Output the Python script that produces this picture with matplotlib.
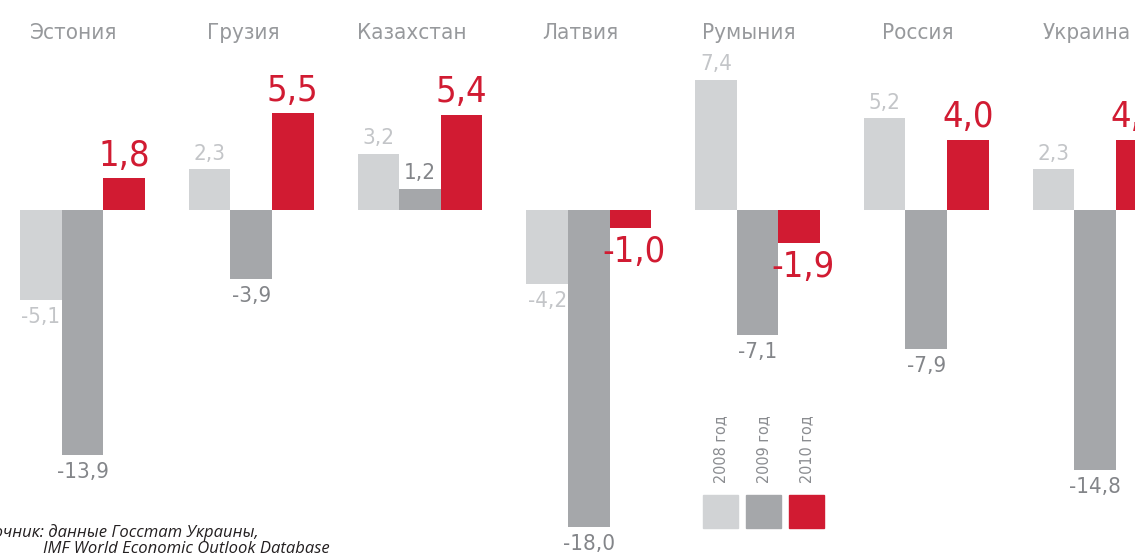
import matplotlib
matplotlib.use('Agg')
import matplotlib.pyplot as plt
from matplotlib import font_manager
from matplotlib.patches import Rectangle
from matplotlib.transforms import blended_transform_factory

countries = ['Эстония', 'Грузия', 'Казахстан', 'Латвия', 'Румыния', 'Россия', 'Украина']
years = ['2008 год', '2009 год', '2010 год']
gdp_2008 = [-5.1, 2.3, 3.2, -4.2, 7.4, 5.2, 2.3]
gdp_2009 = [-13.9, -3.9, 1.2, -18.0, -7.1, -7.9, -14.8]
gdp_2010 = [1.8, 5.5, 5.4, -1.0, -1.9, 4.0, 4.0]
source_lines = ['Источник: данные Госстат Украины,', 'IMF World Economic Outlook Database']

c_light = '#d1d3d5'
c_mid = '#a5a7aa'
c_red = '#d11b32'
c_title = '#97999c'

# narrow font if there is one, else plain DejaVu
narrow = None
pref = ['liberation sans narrow', 'dejavu sans', 'roboto condensed', 'open sans condensed', 'noto sans']
cands = []
for f in font_manager.fontManager.ttflist:
    nm = f.name.lower()
    st = str(f.stretch).lower()
    if f.style != 'normal':
        continue
    w = f.weight if isinstance(f.weight, int) else 400
    if w > 500:
        continue
    if 'narrow' in nm or 'condensed' in nm or st in ('condensed', 'semi-condensed', 'extra-condensed', '75', '87'):
        rank = next((i for i, p in enumerate(pref) if nm.startswith(p)), 99)
        cands.append((rank, f.fname))
if cands:
    cands.sort()
    narrow = cands[0][1]

def fp(size):
    if narrow:
        return font_manager.FontProperties(fname=narrow, size=size)
    return font_manager.FontProperties(family='DejaVu Sans', size=size * 0.8)

fig = plt.figure(figsize=(11.35, 5.56), dpi=100)
ax = fig.add_axes([0, 0, 1, 1])
ax.set_xlim(-0.4889, 6.237)
ax.set_ylim(-19.66, 11.93)
ax.axis('off')

w = 0.246
x = list(range(len(countries)))
series = [(gdp_2008, c_light, '#c3c5c8', 16), (gdp_2009, c_mid, '#838589', 16), (gdp_2010, c_red, c_red, 26)]
for k, (vals, col, tcol, ts) in enumerate(series):
    xs = [i + (k - 1) * w for i in x]
    ax.bar(xs, vals, width=w, color=col, edgecolor='none', zorder=2)
    for xi, v in zip(xs, vals):
        lab = ('%.1f' % v).replace('.', ',')
        if v >= 0:
            ax.annotate(lab, (xi, v), xytext=(0, 4), textcoords='offset points',
                        ha='center', va='bottom', color=tcol, fontproperties=fp(ts),
                        annotation_clip=False)
        else:
            ax.annotate(lab, (xi, v), xytext=(3 if k == 2 else 0, -5), textcoords='offset points',
                        ha='center', va='top', color=tcol, fontproperties=fp(ts),
                        annotation_clip=False)

# country titles
tr = blended_transform_factory(ax.transData, fig.transFigure)
for i, c in enumerate(countries):
    ax.text(i - 0.05, 1 - 33 / 556, c, transform=tr, ha='center', va='center',
            color=c_title, fontproperties=fp(16))

# legend
sq_x = [703, 746, 789]
for sx, col, lab in zip(sq_x, [c_light, c_mid, c_red], years):
    fig.patches.append(Rectangle((sx / 1135, 1 - 528 / 556), 35 / 1135, 33 / 556,
                                 transform=fig.transFigure, color=col))
    fig.text((sx + 17.5) / 1135, 1 - 483 / 556, lab, rotation=90, ha='center', va='bottom',
             color='#8a8c90', fontproperties=fp(11.5))

# source
fig.text(259 / 1135, 1 - 533 / 556, source_lines[0], ha='right', va='center',
         family='Open Sans', style='italic', size=12, color='#231f20')
fig.text(43 / 1135, 1 - 549 / 556, source_lines[1], ha='left', va='center',
         family='Open Sans', style='italic', size=12, color='#231f20')

fig.savefig('out.png', dpi=100)
